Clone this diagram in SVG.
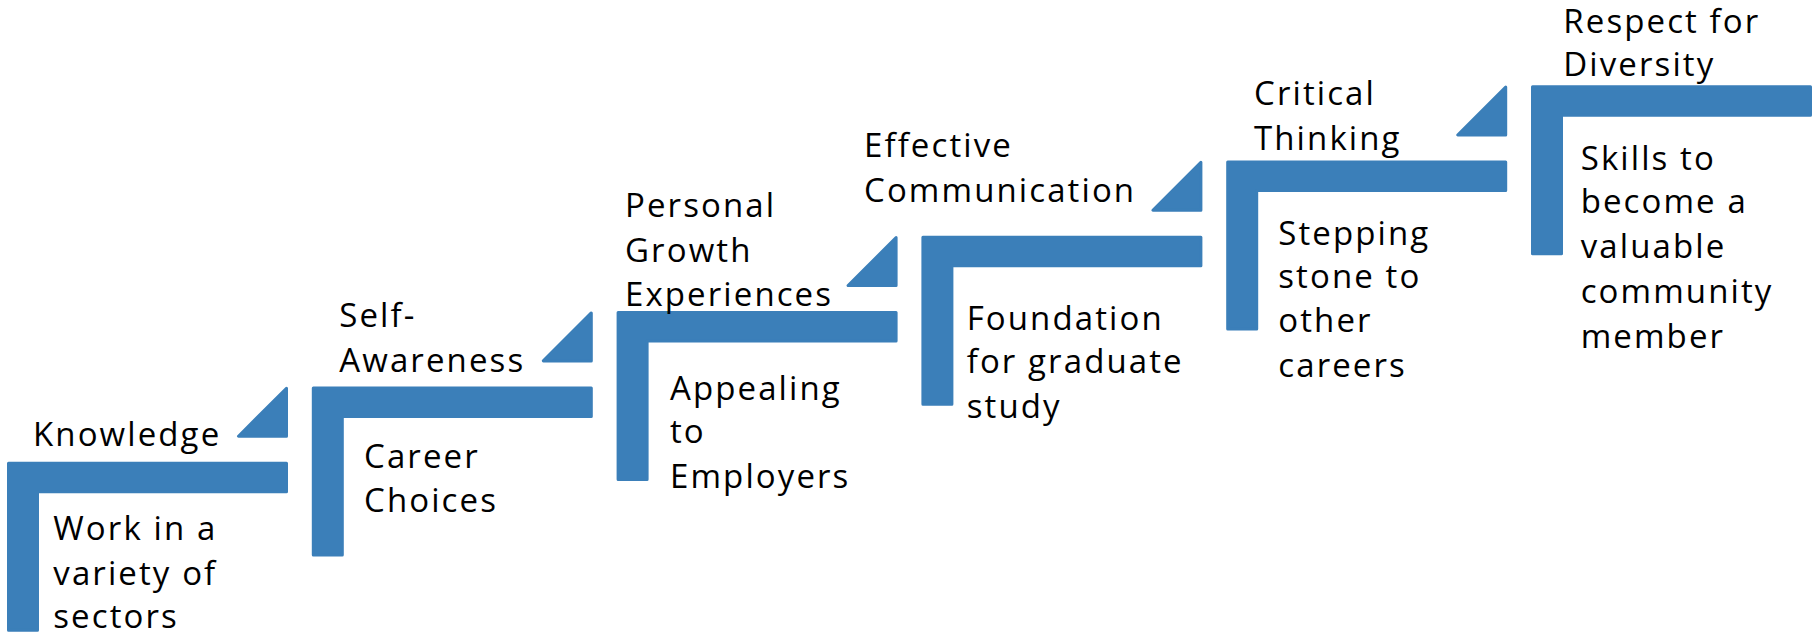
<svg xmlns="http://www.w3.org/2000/svg" width="1816" height="635" viewBox="0 0 1816 635">
  <defs>
    <style>
      .bar { fill: #3B7FB9; stroke: #3B7FB9; stroke-width: 3; stroke-linejoin: round; }
      .t { font-family: "Open Sans", "Noto Sans", "Liberation Sans", sans-serif; font-size: 33px; letter-spacing: 2.1px; fill: #000; }
    </style>
    <path id="lshape" d="M1.5,1.5 H279.5 V30 H30.5 V168.5 H1.5 Z"/>
    <path id="tri" d="M231.5,-25.5 H279.5 V-73.5 Z"/>
  </defs>
  <rect width="1816" height="635" fill="#ffffff"/>

  <g id="step1">
    <g transform="translate(7,461.7)"><use href="#lshape" class="bar"/><use href="#tri" class="bar"/></g>
    <text class="t" x="33" y="445.7">Knowledge</text>
    <text class="t" x="53.3"><tspan x="53.3" y="540">Work in a</tspan><tspan x="53.3" y="585">variety of</tspan><tspan x="53.3" y="628">sectors</tspan></text>
  </g>

  <g id="step2">
    <g transform="translate(311.8,386.4)"><use href="#lshape" class="bar"/><use href="#tri" class="bar"/></g>
    <text class="t"><tspan x="339.3" y="326.7">Self-</tspan><tspan x="339.3" y="371.7">Awareness</tspan></text>
    <text class="t"><tspan x="364" y="467.7">Career</tspan><tspan x="364" y="512.3">Choices</tspan></text>
  </g>

  <g id="step3">
    <g transform="translate(616.6,311.1)"><use href="#lshape" class="bar"/><use href="#tri" class="bar"/></g>
    <text class="t"><tspan x="625" y="216.7">Personal</tspan><tspan x="625" y="261.7">Growth</tspan><tspan x="625" y="306">Experiences</tspan></text>
    <text class="t"><tspan x="670" y="399.5">Appealing</tspan><tspan x="670" y="443.3">to</tspan><tspan x="670" y="488.3">Employers</tspan></text>
  </g>

  <g id="step4">
    <g transform="translate(921.4,235.8)"><use href="#lshape" class="bar"/><use href="#tri" class="bar"/></g>
    <text class="t"><tspan x="864" y="156.7">Effective</tspan><tspan x="864" y="201.7">Communication</tspan></text>
    <text class="t"><tspan x="966.7" y="330">Foundation</tspan><tspan x="966.7" y="373.3">for graduate</tspan><tspan x="966.7" y="418.3">study</tspan></text>
  </g>

  <g id="step5">
    <g transform="translate(1226.2,160.5)"><use href="#lshape" class="bar"/><use href="#tri" class="bar"/></g>
    <text class="t"><tspan x="1254" y="105">Critical</tspan><tspan x="1254" y="150">Thinking</tspan></text>
    <text class="t"><tspan x="1278.3" y="245">Stepping</tspan><tspan x="1278.3" y="288.3">stone to</tspan><tspan x="1278.3" y="331.7">other</tspan><tspan x="1278.3" y="376.7">careers</tspan></text>
  </g>

  <g id="step6">
    <g transform="translate(1531,85.2)"><use href="#lshape" class="bar"/></g>
    <text class="t"><tspan x="1563.3" y="33.3">Respect for</tspan><tspan x="1563.3" y="76">Diversity</tspan></text>
    <text class="t"><tspan x="1580.7" y="170">Skills to</tspan><tspan x="1580.7" y="213.3">become a</tspan><tspan x="1580.7" y="258.3">valuable</tspan><tspan x="1580.7" y="303.3">community</tspan><tspan x="1580.7" y="348.3">member</tspan></text>
  </g>

  <g id="connectors"/>
</svg>
